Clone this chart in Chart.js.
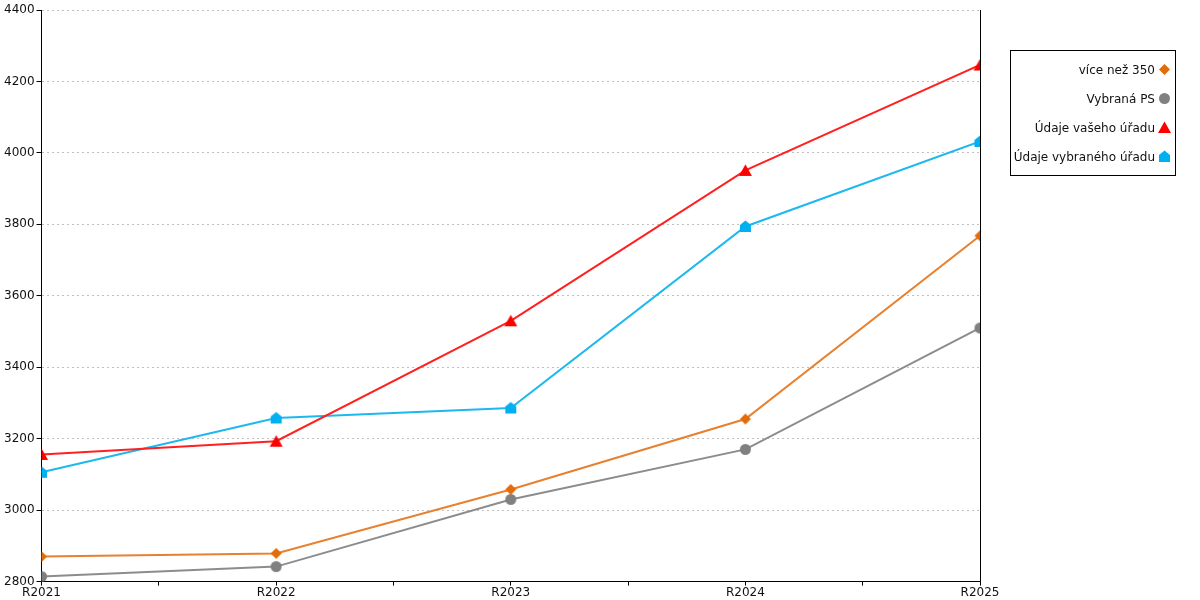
<!DOCTYPE html>
<html>
<head>
<meta charset="utf-8">
<script src="https://cdn.jsdelivr.net/npm/chart.js@4/dist/chart.umd.min.js"></script>
<style>
  html, body { margin: 0; padding: 0; background: #fff; }
  #wrap { position: relative; width: 1200px; height: 600px; }
  #chart { position: absolute; left: 0; top: 0; }
  #legend {
    position: absolute; left: 1010px; top: 50px; width: 166px; height: 126px;
    border: 1px solid #000; font: 12px "DejaVu Sans", sans-serif; color: #111;
    padding-top: 4px; box-sizing: border-box; white-space: nowrap;
  }
  .item { height: 29px; display: flex; align-items: center; justify-content: flex-end; padding-right: 3px; }
  .item canvas { margin-left: 2px; }
</style>
</head>
<body>
<div id="wrap">
  <canvas id="chart" width="1200" height="600"></canvas>
  <div id="legend"></div>
</div>
<script>
const years = ["R2021", "R2022", "R2023", "R2024", "R2025"];
const viceNez350 = [2870, 2879, 3058, 3255, 3768];
const vybranaPS = [2814, 2842, 3030, 3170, 3510];
const vasUrad = [3156, 3193, 3530, 3951, 4246];
const vybranyUrad = [3106, 3258, 3286, 3794, 4032];
const yTicks = [2800, 3000, 3200, 3400, 3600, 3800, 4000, 4200, 4400];

const series = [
  { name: "více než 350", values: viceNez350, color: "#E36C0A", line: "#E8812F", marker: "diamond" },
  { name: "Vybraná PS", values: vybranaPS, color: "#808080", line: "#8C8C8C", marker: "circle" },
  { name: "Údaje vašeho úřadu", values: vasUrad, color: "#FF0000", line: "#FF2020", marker: "triangle" },
  { name: "Údaje vybraného úřadu", values: vybranyUrad, color: "#00B0F0", line: "#1EB8F0", marker: "house" }
];

function drawMarker(ctx, kind, cx, cy, color) {
  ctx.fillStyle = color;
  ctx.beginPath();
  if (kind === "diamond") {
    ctx.moveTo(cx, cy - 5.5); ctx.lineTo(cx + 5.5, cy); ctx.lineTo(cx, cy + 5.5); ctx.lineTo(cx - 5.5, cy);
  } else if (kind === "circle") {
    ctx.arc(cx, cy, 5.5, 0, Math.PI * 2);
  } else if (kind === "triangle") {
    ctx.moveTo(cx, cy - 6); ctx.lineTo(cx + 6.5, cy + 5.5); ctx.lineTo(cx - 6.5, cy + 5.5);
  } else {
    ctx.moveTo(cx, cy - 6); ctx.lineTo(cx + 5.5, cy - 1.5); ctx.lineTo(cx + 5.5, cy + 5.5);
    ctx.lineTo(cx - 5.5, cy + 5.5); ctx.lineTo(cx - 5.5, cy - 1.5);
  }
  ctx.closePath();
  ctx.fill();
}

function markerCanvas(kind, color) {
  const c = document.createElement("canvas");
  c.width = 15; c.height = 15;
  drawMarker(c.getContext("2d"), kind, 7.5, 7.5, color);
  return c;
}

// legend on the right
const legend = document.getElementById("legend");
series.forEach(s => {
  const row = document.createElement("div");
  row.className = "item";
  const span = document.createElement("span");
  span.textContent = s.name;
  row.appendChild(span);
  row.appendChild(markerCanvas(s.marker, s.color));
  legend.appendChild(row);
});

Chart.defaults.font.family = "'DejaVu Sans', sans-serif";
Chart.defaults.font.size = 12;
Chart.defaults.color = "#111";

new Chart(document.getElementById("chart"), {
  type: "line",
  data: {
    datasets: series.map(s => ({
      label: s.name,
      data: s.values.map((v, i) => ({ x: i, y: v })),
      borderColor: s.line,
      borderWidth: 2,
      pointStyle: markerCanvas(s.marker, s.color),
      tension: 0
    }))
  },
  options: {
    responsive: false,
    animation: false,
    layout: { padding: { left: 2, right: 212, top: 10, bottom: 0 } },
    plugins: { legend: { display: false }, tooltip: { enabled: false } },
    scales: {
      x: {
        type: "linear",
        min: 0,
        max: years.length - 1,
        ticks: {
          stepSize: 0.5,
          autoSkip: false,
          maxRotation: 0,
          padding: 0,
          callback: v => Number.isInteger(v) ? years[v] : ""
        },
        grid: { drawOnChartArea: false, tickColor: "#000", tickLength: 4 },
        border: { color: "#000", width: 1 }
      },
      y: {
        min: yTicks[0],
        max: yTicks[yTicks.length - 1],
        afterBuildTicks: axis => { axis.ticks = yTicks.map(v => ({ value: v })); },
        ticks: { padding: 2, callback: v => String(v) },
        grid: { color: "#C0C0C0", tickColor: "#000", tickLength: 5, tickBorderDash: [] },
        border: { color: "#000", width: 1, dash: [2, 3] }
      },
      y2: {
        position: "right",
        min: yTicks[0],
        max: yTicks[yTicks.length - 1],
        ticks: { display: false },
        grid: { display: false },
        border: { color: "#000", width: 1 }
      }
    }
  }
});
</script>
</body>
</html>
